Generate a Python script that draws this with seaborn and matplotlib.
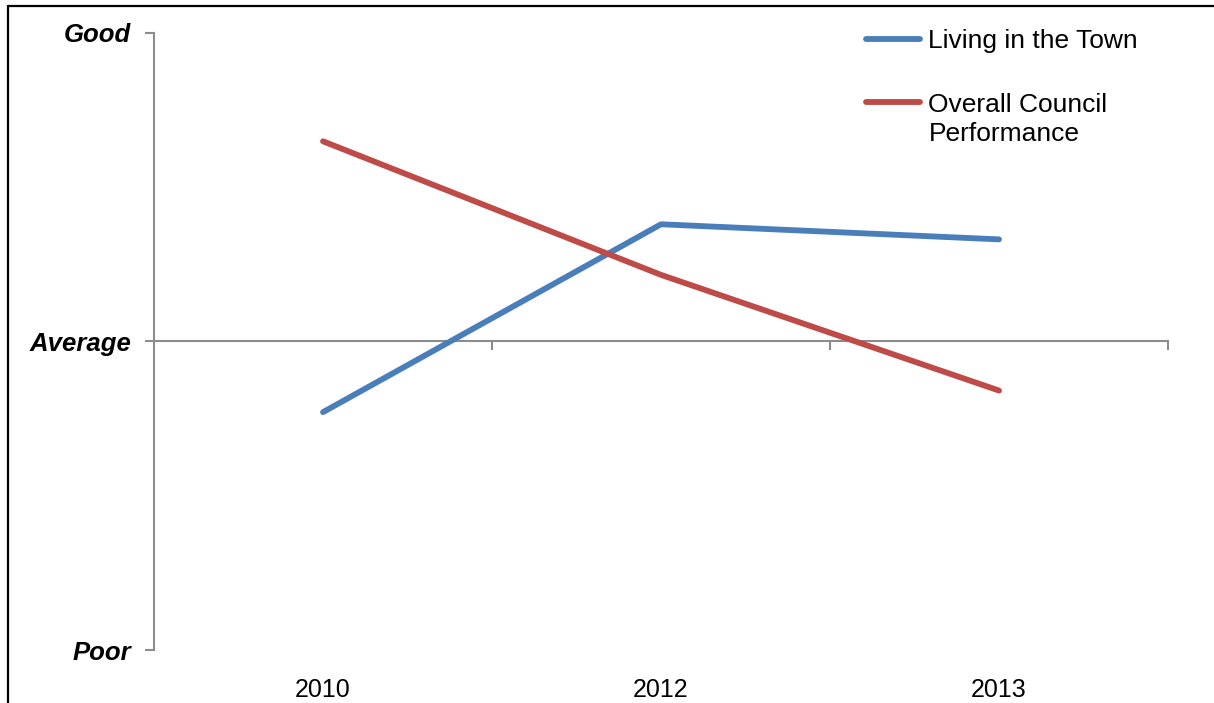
import matplotlib
matplotlib.use("Agg")
import matplotlib.pyplot as plt
from matplotlib.lines import Line2D
import seaborn as sns
import pandas as pd

# Survey ratings on a Poor (-1) .. Average (0) .. Good (+1) scale
years = ["2010", "2012", "2013"]
living_in_town = [-0.229, 0.380, 0.331]
council_performance = [0.649, 0.216, -0.159]
series_names = ["Living in the Town", "Overall Council Performance"]
rating_values = [-1, 0, 1]
rating_labels = ["Poor", "Average", "Good"]

colors = ["#4A7EBB", "#BE4B48"]
axis_grey = "#8C8C8C"

sns.set_style("white")
plt.rcParams["font.family"] = ["Liberation Sans", "DejaVu Sans"]
plt.rcParams["text.color"] = "black"
plt.rcParams["xtick.labelcolor"] = "black"
plt.rcParams["ytick.labelcolor"] = "black"

df = pd.DataFrame({
    "pos": list(range(len(years))) * 2,
    "rating": living_in_town + council_performance,
    "series": [series_names[0]] * len(years) + [series_names[1]] * len(years),
})

fig = plt.figure(figsize=(12.14, 7.03), dpi=100)
W, H = 1214, 703
ax = fig.add_axes([154 / W, (H - 650) / H, (1168 - 154) / W, (650 - 33) / H])

sns.lineplot(data=df, x="pos", y="rating", hue="series", palette=colors,
             linewidth=4.2, ax=ax, legend=False, solid_capstyle="round")

ax.set_xlim(-0.5, len(years) - 0.5)
ax.set_ylim(-1, 1)
ax.set_xlabel("")
ax.set_ylabel("")

for s in ["top", "right", "bottom"]:
    ax.spines[s].set_visible(False)
ax.spines["left"].set_color(axis_grey)
ax.spines["left"].set_linewidth(1.5)

ax.set_yticks(rating_values)
ax.set_yticklabels(rating_labels, fontsize=18.5, fontweight="bold", fontstyle="italic")
ax.tick_params(axis="y", direction="out", length=6.5, width=1.5, color=axis_grey, pad=10, left=True)

ax.set_xticks(range(len(years)))
ax.set_xticklabels(years, fontsize=18)
ax.tick_params(axis="x", length=0, pad=20)

# Horizontal category axis drawn through the "Average" level
mid = ax.secondary_xaxis(0, transform=ax.transData)
mid.spines["bottom"].set_color(axis_grey)
mid.spines["bottom"].set_linewidth(1.5)
mid.set_xticks([i + 0.5 for i in range(len(years))])
mid.tick_params(axis="x", direction="out", length=6.5, width=1.5, color=axis_grey, labelbottom=False)

# Legend: handles aligned with the first line of each label
handles = [Line2D([], [], color=c, linewidth=4.2) for c in colors]
leg = ax.legend(handles, ["Living in the Town", "Overall Council"], loc="upper left",
                bbox_to_anchor=(866 / W, (H - 29) / H), bbox_transform=fig.transFigure,
                frameon=False, fontsize=19, handlelength=2.05, handletextpad=0.3,
                labelspacing=1.5, borderaxespad=0, borderpad=0)

fig.canvas.draw()
renderer = fig.canvas.get_renderer()
bb = leg.get_texts()[1].get_window_extent(renderer).transformed(fig.transFigure.inverted())
fig.text(bb.x0 + 1 / W, bb.y0 - 5 / H, "Performance", va="top", ha="left", fontsize=19)

# Outer frame
fig.add_artist(Line2D([8 / W, 8 / W], [0, (H - 6) / H], color="black", linewidth=1.6,
                      transform=fig.transFigure))
fig.add_artist(Line2D([8 / W, 1], [(H - 6) / H, (H - 6) / H], color="black", linewidth=1.6,
                      transform=fig.transFigure))

fig.savefig("out.png", dpi=100, facecolor="white")
